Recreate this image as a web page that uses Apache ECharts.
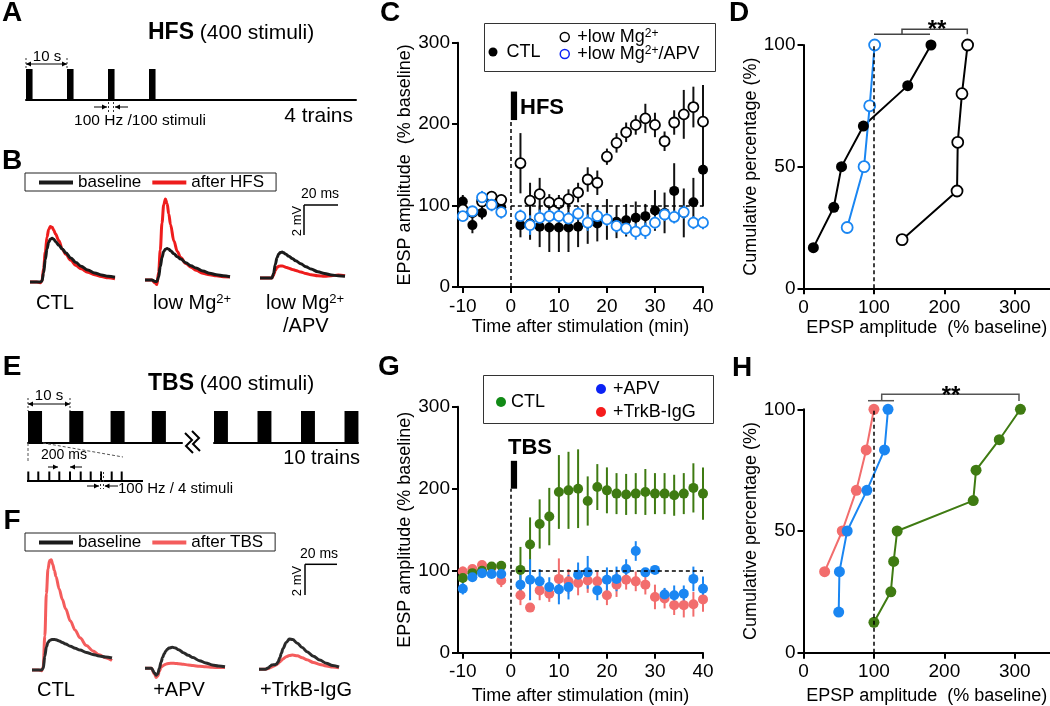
<!DOCTYPE html>
<html><head><meta charset="utf-8">
<script src="https://cdn.jsdelivr.net/npm/echarts@6/dist/echarts.min.js"></script>
<style>html,body{margin:0;padding:0;background:#fff}#c{width:1050px;height:706px}</style>
</head><body><div id="c"></div><script>
const FONT = '"Liberation Sans", Arial, Helvetica, sans-serif';

// ---------------- DATA ----------------
// Time-course panels (C, G): minutes
const timeLTP = [-10,-8,-6,-4,-2,2,4,6,8,10,12,14,16,18,20,22,24,26,28,30,32,34,36,38,40];
const xTicksTime = [-10,0,10,20,30,40];
// Panel C (HFS)
const hfsCtl      = [105,76,91,103,98,76,78,74,73,73,73,74,78,78,83,80,82,85,87,94,91,118,91,104,144];
const hfsCtlErr   = [8,10,8,5,5,15,20,25,30,30,30,25,25,22,25,20,20,20,15,25,25,34,30,30,45];
const hfsLowMg    = [95,92,105,111,107,152,106,114,104,103,108,116,132,128,160,177,190,199,207,199,179,202,212,221,203];
const hfsLowMgErr = [5,5,6,6,6,37,22,20,10,10,12,12,15,15,10,12,12,12,18,15,12,15,30,25,45];
const hfsApv      = [87,93,110,101,92,87,76,85,87,87,84,90,79,87,83,75,72,68,69,79,89,86,92,79,79];
const hfsApvErr   = [6,6,8,8,8,8,12,10,8,8,8,8,10,8,8,8,8,10,10,8,8,8,8,8,8];
// Panel G (TBS)
const tbsCtl      = [91,97,100,105,106,101,132,157,166,196,198,200,185,202,198,194,193,194,196,194,194,192,194,201,194];
const tbsCtlErr   = [6,5,5,5,5,28,33,30,35,45,47,48,30,28,28,25,25,25,28,25,25,25,25,30,32];
const tbsApv      = [78,92,97,96,96,83,89,87,80,77,80,95,98,76,89,90,102,124,98,101,71,70,72,90,78];
const tbsApvErr   = [7,5,5,5,5,12,25,15,12,18,15,15,20,12,15,15,12,12,5,5,8,12,10,15,15];
const tbsTrk      = [99,102,107,104,88,70,55,76,72,90,87,85,88,87,70,83,89,87,83,68,66,58,58,59,65];
const tbsTrkErr   = [6,5,5,5,8,12,5,12,10,25,15,15,15,12,12,15,12,12,12,15,12,12,15,15,15];
// Cumulative panels (D, H)
const xTicksCum = [0,100,200,300];
const dCtlX   = [14,43,54,85,148,181];      const dCtlY   = [16.7,33.3,50,66.7,83.3,100];
const dLowMgX = [140,218,219,225,233];       const dLowMgY = [20,40,60,80,100];
const dApvX   = [62,86,94,101];              const dApvY   = [25,50,75,100];
const hTrkX   = [30,55,75,89,100];           const hTrkY   = [33.3,50,66.7,83.3,100];
const hApvX   = [50,51,62,90,115,120];       const hApvY   = [16.7,33.3,50,66.7,83.3,100];
const hCtlX   = [100,124,128,133,241,245,278,308]; const hCtlY = [12.5,25,37.5,50,62.5,75,87.5,100];
// Stimulation protocols (seconds)
const hfsTrainStarts = [0,10,20,30];
const tbsTrainStarts = [0,10,20,30];
// EPSP traces (ms, mV)
const traceT = [0,4,6,7,8,9,10,11,12,13,14,15,17,19,21,24,27,30,34,38,42,46,50];
const bCtlBase  = [0,0,0,0.05,0.6,1.5,2.2,2.65,2.85,2.92,2.85,2.7,2.45,2.2,1.95,1.6,1.3,1.05,0.8,0.6,0.47,0.38,0.32];
const bCtlAfter = [0,0,-0.05,0.05,0.9,2.0,3.0,3.5,3.7,3.65,3.45,3.2,2.75,2.2,1.85,1.45,1.1,0.88,0.65,0.48,0.36,0.28,0.22];
const bMgBase   = [0,0,-0.1,-0.1,0.2,0.9,1.5,1.9,2.05,2.1,2.05,1.95,1.75,1.55,1.4,1.15,0.95,0.8,0.6,0.45,0.35,0.28,0.22];
const bMgAfter  = [0,0,-0.2,-0.3,0.5,2.0,3.8,5.0,5.4,5.1,4.4,3.7,2.6,1.9,1.5,1.1,0.85,0.65,0.45,0.35,0.28,0.22,0.2];
const bApvBase  = [0,0,0,0,0.3,0.9,1.35,1.6,1.7,1.73,1.68,1.6,1.45,1.3,1.15,0.95,0.75,0.6,0.42,0.3,0.2,0.15,0.12];
const bApvAfter = [0,0,0,0,0.2,0.5,0.7,0.78,0.8,0.8,0.77,0.72,0.65,0.57,0.5,0.4,0.3,0.22,0.15,0.12,0.15,0.2,0.15];
const fCtlBase  = [0,0,0,0.1,0.9,1.5,1.8,1.92,1.98,2.0,2.0,1.97,1.9,1.8,1.7,1.55,1.42,1.3,1.15,1.02,0.92,0.85,0.78];
const fCtlAfter = [0,0,-0.05,0.2,2.2,5.0,6.6,7.15,7.2,6.9,6.5,6.1,5.3,4.6,4.0,3.2,2.6,2.1,1.6,1.25,1.0,0.8,0.62];
const fApvBase  = [0,0,-0.3,-0.45,-0.35,0,0.4,0.7,0.95,1.12,1.25,1.32,1.37,1.33,1.22,1.02,0.85,0.7,0.5,0.35,0.22,0.15,0.1];
const fApvAfter = [0,0,-0.4,-0.6,-0.5,-0.2,0.05,0.15,0.22,0.27,0.3,0.32,0.33,0.32,0.3,0.26,0.22,0.18,0.13,0.1,0.07,0.05,0.05];
const fTrkBase  = [0,0,0.1,0.2,0.28,0.3,0.3,0.35,0.5,0.75,1.05,1.35,1.75,1.98,1.95,1.7,1.42,1.15,0.85,0.6,0.4,0.25,0.15];
const fTrkAfter = [0,0,0.05,0.1,0.15,0.2,0.25,0.3,0.38,0.48,0.58,0.68,0.82,0.9,0.93,0.88,0.75,0.62,0.45,0.32,0.22,0.15,0.1];

// ---------------- STYLE ----------------
const BLACK = '#000';
const BLUE = '#1a86f2';
const SALMON = '#f26d6d';
const OLIVE = '#3f7b12';
const RED_B = '#ee1c1c';
const RED_F = '#f45c5c';
const LEG_GREEN = '#118a16', LEG_BLUE = '#0b22f5', LEG_RED = '#f51c1c';

function zip(xs, ys, es){ return xs.map((x,i)=> es ? [x, ys[i], es[i]] : [x, ys[i]]); }

function mainAxis(extra){
  return Object.assign({
    type:'value', splitLine:{show:false},
    axisLine:{show:true,onZero:false,lineStyle:{color:BLACK,width:2}},
    axisTick:{show:true,length:6,lineStyle:{color:BLACK,width:2}},
    axisLabel:{color:BLACK,fontSize:19,fontFamily:FONT},
    nameTextStyle:{color:BLACK,fontSize:18,fontFamily:FONT},
    nameLocation:'middle'
  }, extra);
}
function hiddenAxis(extra){ return Object.assign({type:'value', show:false, splitLine:{show:false}}, extra); }

const grids = [
  {left:458, top:42.7, width:245, height:244.3},     //0 C
  {left:803.5, top:45, width:246.5, height:243.3},   //1 D
  {left:458, top:406.7, width:245, height:246},      //2 G
  {left:803.5, top:409.3, width:246.5, height:243.4},//3 H
  {left:26, top:69, width:330, height:31},           //4 A protocol
  {left:28, top:411, width:154, height:32},          //5 E protocol part 1
  {left:214, top:411, width:144, height:32},         //6 E protocol part 2
  {left:30, top:192, width:85, height:105},          //7 B CTL
  {left:145, top:190, width:85, height:105},         //8 B low Mg
  {left:260, top:188, width:85, height:105},         //9 B low Mg/APV
  {left:32, top:547.6, width:80, height:137.7},      //10 F CTL
  {left:145, top:545.9, width:80, height:137.7},     //11 F APV
  {left:259, top:546.9, width:80, height:137.7}      //12 F TrkB
].map(g=>Object.assign({outerBoundsMode:'none', containLabel:false}, g));

function tickX(vals){ return {show:true,length:6,lineStyle:{color:BLACK,width:2},customValues:vals}; }
function labX(vals){ return {color:BLACK,fontSize:19,fontFamily:FONT,margin:10,customValues:vals}; }
const xAxes = [
  mainAxis({gridIndex:0, min:-11, max:40, axisTick:tickX(xTicksTime), axisLabel:labX(xTicksTime), name:'Time after stimulation (min)', nameGap:31}),
  mainAxis({gridIndex:1, min:0, max:350, axisTick:tickX(xTicksCum), axisLabel:labX(xTicksCum), name:'EPSP amplitude  (% baseline)', nameGap:31}),
  mainAxis({gridIndex:2, min:-11, max:40, axisTick:tickX(xTicksTime), axisLabel:labX(xTicksTime), name:'Time after stimulation (min)', nameGap:34}),
  mainAxis({gridIndex:3, min:0, max:350, axisTick:tickX(xTicksCum), axisLabel:labX(xTicksCum), name:'EPSP amplitude  (% baseline)', nameGap:34}),
  {gridIndex:4, type:'value', min:0, max:80.5, axisLine:{show:true,onZero:false,lineStyle:{color:BLACK,width:2}}, axisTick:{show:false}, axisLabel:{show:false}, splitLine:{show:false}},
  {gridIndex:5, type:'value', min:0, max:37.3, axisLine:{show:true,onZero:false,lineStyle:{color:BLACK,width:2}}, axisTick:{show:false}, axisLabel:{show:false}, splitLine:{show:false}},
  {gridIndex:6, type:'value', min:0, max:33.1, axisLine:{show:true,onZero:false,lineStyle:{color:BLACK,width:2}}, axisTick:{show:false}, axisLabel:{show:false}, splitLine:{show:false}},
  hiddenAxis({gridIndex:7, min:0, max:50}), hiddenAxis({gridIndex:8, min:0, max:50}), hiddenAxis({gridIndex:9, min:0, max:50}),
  hiddenAxis({gridIndex:10, min:0, max:50}), hiddenAxis({gridIndex:11, min:0, max:50}), hiddenAxis({gridIndex:12, min:0, max:50})
];
const yLab = {color:BLACK,fontSize:19,fontFamily:FONT,margin:8};
const yAxes = [
  mainAxis({gridIndex:0, min:0, max:300, interval:100, axisLabel:yLab, name:'EPSP amplitude  (% baseline)', nameGap:40, nameRotate:90}),
  mainAxis({gridIndex:1, min:0, max:100, interval:50, axisLabel:yLab, name:'Cumulative percentage (%)', nameGap:30, nameRotate:90}),
  mainAxis({gridIndex:2, min:0, max:300, interval:100, axisLabel:yLab, name:'EPSP amplitude (% baseline)', nameGap:40, nameRotate:90}),
  mainAxis({gridIndex:3, min:0, max:100, interval:50, axisLabel:yLab, name:'Cumulative percentage (%)', nameGap:30, nameRotate:90}),
  hiddenAxis({gridIndex:4, min:0, max:1}), hiddenAxis({gridIndex:5, min:0, max:1}), hiddenAxis({gridIndex:6, min:0, max:1}),
  hiddenAxis({gridIndex:7, min:-1, max:6}), hiddenAxis({gridIndex:8, min:-1, max:6}), hiddenAxis({gridIndex:9, min:-1, max:6}),
  hiddenAxis({gridIndex:10, min:-1, max:8}), hiddenAxis({gridIndex:11, min:-1, max:8}), hiddenAxis({gridIndex:12, min:-1, max:8})
];

function errSeries(ai, data, color, w){
  return {type:'custom', xAxisIndex:ai, yAxisIndex:ai, data, silent:true, encode:{x:0,y:1}, clip:false,
    renderItem:(p,api)=>{ const x=api.value(0), y=api.value(1), e=api.value(2);
      const a=api.coord([x,y-e]), b=api.coord([x,y+e]);
      return {type:'line', shape:{x1:a[0],y1:a[1],x2:b[0],y2:b[1]}, style:{stroke:color,lineWidth:w}}; }};
}
function dots(ai, name, data, fill, border, bw, size){
  return {type:'scatter', name, xAxisIndex:ai, yAxisIndex:ai, data, symbol:'circle', symbolSize:size||10, silent:true,
    itemStyle:{color:fill, borderColor:border, borderWidth:bw, opacity:1}, clip:false};
}
function cumLine(ai, name, data, lineColor, fill, border, bw){
  return {type:'line', name, xAxisIndex:ai, yAxisIndex:ai, data, symbol:'circle', symbolSize:11, showSymbol:true, silent:true,
    lineStyle:{color:lineColor,width:2}, itemStyle:{color:fill,borderColor:border,borderWidth:bw}, clip:false};
}
function trace(ai, name, ys, color){
  return {type:'line', name, xAxisIndex:ai, yAxisIndex:ai, data:zip(traceT, ys), showSymbol:false, symbol:'none', smooth:0.35, smoothMonotone:'x',
    silent:true, clip:false, lineStyle:{color,width:3}, itemStyle:{color}};
}
function blocks(ai, starts, dur){
  return {type:'custom', xAxisIndex:ai, yAxisIndex:ai, data:starts.map(t=>[t,1]), encode:{x:0,y:1}, silent:true, clip:false,
    renderItem:(p,api)=>{ const t=api.value(0); const a=api.coord([t,1]); const b=api.coord([t+dur,0]);
      return {type:'rect', shape:{x:a[0],y:a[1],width:b[0]-a[0],height:b[1]-a[1]}, style:{fill:BLACK}}; }};
}
const dashStyle = {color:BLACK, width:1.5, type:[4,3]};
function refLines(lines){
  return {silent:true, symbol:'none', label:{show:false}, lineStyle:dashStyle, emphasis:{disabled:true},
    data: lines.map(l=>[{coord:l[0]},{coord:l[1]}])};
}

const series = [
  // C
  Object.assign(errSeries(0, zip(timeLTP,hfsCtl,hfsCtlErr), '#111', 2), {
    markLine: refLines([[[0,0],[0,205]], [[0,100],[40,100]]]),
    markArea: {silent:true, itemStyle:{color:BLACK, opacity:1}, label:{show:false}, data:[[{coord:[0,205]},{coord:[1.3,240]}]]}
  }),
  dots(0, 'CTL', zip(timeLTP,hfsCtl,hfsCtlErr), BLACK, BLACK, 0, 10),
  errSeries(0, zip(timeLTP,hfsLowMg,hfsLowMgErr), '#111', 2),
  dots(0, '+low Mg2+', zip(timeLTP,hfsLowMg,hfsLowMgErr), '#fff', BLACK, 1.8, 10),
  errSeries(0, zip(timeLTP,hfsApv,hfsApvErr), BLUE, 2),
  dots(0, '+low Mg2+/APV', zip(timeLTP,hfsApv,hfsApvErr), '#fff', BLUE, 1.8, 10),
  // D
  Object.assign(cumLine(1, 'CTL', zip(dCtlX,dCtlY), BLACK, BLACK, BLACK, 0), {markLine: refLines([[[100,0],[100,100]]])}),
  cumLine(1, '+low Mg2+', zip(dLowMgX,dLowMgY), BLACK, '#fff', BLACK, 1.8),
  cumLine(1, '+low Mg2+/APV', zip(dApvX,dApvY), BLUE, '#fff', BLUE, 1.8),
  // G
  Object.assign(errSeries(2, zip(timeLTP,tbsTrk,tbsTrkErr), SALMON, 2), {
    markLine: refLines([[[0,0],[0,200]], [[0,100],[40,100]]]),
    markArea: {silent:true, itemStyle:{color:BLACK, opacity:1}, label:{show:false}, data:[[{coord:[0,200]},{coord:[1.3,234]}]]}
  }),
  dots(2, '+TrkB-IgG', zip(timeLTP,tbsTrk,tbsTrkErr), SALMON, SALMON, 0, 10),
  errSeries(2, zip(timeLTP,tbsCtl,tbsCtlErr), OLIVE, 2),
  dots(2, 'CTL (TBS)', zip(timeLTP,tbsCtl,tbsCtlErr), OLIVE, OLIVE, 0, 10),
  errSeries(2, zip(timeLTP,tbsApv,tbsApvErr), BLUE, 2),
  dots(2, '+APV', zip(timeLTP,tbsApv,tbsApvErr), BLUE, BLUE, 0, 10),
  // H
  Object.assign(cumLine(3, '+TrkB-IgG', zip(hTrkX,hTrkY), SALMON, SALMON, SALMON, 0), {markLine: refLines([[[100,0],[100,100]]])}),
  cumLine(3, '+APV', zip(hApvX,hApvY), BLUE, BLUE, BLUE, 0),
  cumLine(3, 'CTL (TBS)', zip(hCtlX,hCtlY), OLIVE, OLIVE, OLIVE, 0),
  // protocols
  blocks(4, hfsTrainStarts, 1.6),
  blocks(5, tbsTrainStarts, 3.4),
  blocks(6, tbsTrainStarts, 3.2),
  // traces B
  trace(7, 'after HFS', bCtlAfter, RED_B), trace(7, 'baseline', bCtlBase, '#1a1a1a'),
  trace(8, 'after HFS', bMgAfter, RED_B),  trace(8, 'baseline', bMgBase, '#1a1a1a'),
  trace(9, 'after HFS', bApvAfter, RED_B), trace(9, 'baseline', bApvBase, '#1a1a1a'),
  // traces F
  trace(10, 'after TBS', fCtlAfter, RED_F), trace(10, 'baseline', fCtlBase, '#2a2a2a'),
  trace(11, 'after TBS', fApvAfter, RED_F), trace(11, 'baseline', fApvBase, '#2a2a2a'),
  trace(12, 'after TBS', fTrkAfter, RED_F), trace(12, 'baseline', fTrkBase, '#2a2a2a')
];

const supRich = {sup:{fontSize:12, fontFamily:FONT, color:BLACK, verticalAlign:'top', lineHeight:11}};
function legendFmt(n){ return n === 'CTL (TBS)' ? 'CTL' : n.replace('2+','{sup|2+}'); }
function oneLegend(name, left, top, icon, iStyle, size, padLeft){
  return {data:[{name, icon, itemStyle:iStyle}], left, top, orient:'horizontal', selectedMode:false, padding:0,
    itemWidth:size, itemHeight:size, formatter:legendFmt,
    textStyle:{fontSize:18, fontFamily:FONT, color:BLACK, padding:[0,0,0,padLeft], rich:supRich}};
}
const legends = [
  oneLegend('CTL', 488.5, 43, 'circle', {color:BLACK, borderWidth:0}, 9, 4),
  oneLegend('+low Mg2+', 559.5, 28, 'circle', {color:'#fff', borderColor:BLACK, borderWidth:1.5}, 9, 3),
  oneLegend('+low Mg2+/APV', 559.5, 45, 'circle', {color:'#fff', borderColor:LEG_BLUE, borderWidth:1.5}, 9, 3),
  oneLegend('CTL (TBS)', 496, 393, 'circle', {color:LEG_GREEN, borderWidth:0}, 10, 0),
  oneLegend('+APV', 596, 380, 'circle', {color:LEG_BLUE, borderWidth:0}, 10, 2),
  oneLegend('+TrkB-IgG', 596, 403, 'circle', {color:LEG_RED, borderWidth:0}, 10, 2),
  {data:['baseline','after HFS'], left:25, top:173, orient:'horizontal', selectedMode:false, icon:'rect', itemWidth:34, itemHeight:4, itemGap:11,
   padding:[1,12,0,14], borderColor:'#222', borderWidth:1, textStyle:{fontSize:17, fontFamily:FONT, color:BLACK}},
  {data:['baseline','after TBS'], left:25, top:533, orient:'horizontal', selectedMode:false, icon:'rect', itemWidth:34, itemHeight:4, itemGap:11,
   padding:[1,12,0,14], borderColor:'#222', borderWidth:1, textStyle:{fontSize:17, fontFamily:FONT, color:BLACK}}
];

// ---------------- annotations ----------------
const G = [];
function txt(text, x, y, size, opts){
  G.push({type:'text', z:50, style:Object.assign({text, x, y, fontSize:size, fontFamily:FONT, fill:BLACK, align:'center', verticalAlign:'middle'}, opts||{})});
}
function rtxt(text, x, y, size){
  G.push({type:'text', z:50, x, y, rotation:Math.PI/2, style:{text, x:0, y:0, fontSize:size, fontFamily:FONT, fill:BLACK, align:'center', verticalAlign:'middle'}});
}
function ln(x1,y1,x2,y2,w,color,dash){
  G.push({type:'line', z:50, shape:{x1,y1,x2,y2}, style:{stroke:color||BLACK, lineWidth:w||1, lineDash:dash||null}});
}
function pl(points,w,color){
  G.push({type:'polyline', z:50, shape:{points}, style:{stroke:color||BLACK, lineWidth:w||1.5, fill:null}});
}
function head(x,y,dir){
  const d = dir==='r' ? -1 : 1;
  G.push({type:'polygon', z:50, shape:{points:[[x,y],[x+5*d,y-2.5],[x+5*d,y+2.5]]}, style:{fill:BLACK}});
}
// panel letters
[['A',12,13],['B',12,161],['C',390,13],['D',739,13],['E',12,367],['F',12,521],['G',389,367],['H',742,368]]
  .forEach(l=>txt(l[0], l[1], l[2], 28, {fontWeight:'bold'}));

// A
txt('{b|HFS} (400 stimuli)', 148, 33, 21, {align:'left', rich:{b:{fontSize:23, fontWeight:'bold', fontFamily:FONT, fill:BLACK}}});
txt('10 s', 47, 57, 15);
ln(26,64,67,64,1); head(26,64,'l'); head(67,64,'r');
ln(26,58,26,69,1,'#333',[2,2]); ln(67,58,67,69,1,'#333',[2,2]);
ln(94,107,107,107,1); head(107,107,'r');
ln(108.5,102,108.5,112,1,'#333',[2,2]); ln(113.5,102,113.5,112,1,'#333',[2,2]);
ln(128,107,115,107,1); head(115,107,'l');
txt('100 Hz /100 stimuli', 140, 121, 15.5);
txt('4 trains', 353, 116, 21, {align:'right'});

// B
ln(304,205,338,205,1.5); ln(304,205,304,235,1.5);
txt('20 ms', 320, 194, 14);
rtxt('2 mV', 297, 221, 13);
const supR20 = {sup:{fontSize:13, fontFamily:FONT, fill:BLACK, verticalAlign:'top', lineHeight:12}};
txt('CTL', 55, 303, 20);
txt('low Mg{sup|2+}', 153, 303, 20, {align:'left', rich:supR20});
txt('low Mg{sup|2+}', 266, 303, 20, {align:'left', rich:supR20});
txt('/APV', 283, 326, 20, {align:'left'});

// C
G.push({type:'rect', z:1, shape:{x:484.5,y:23.5,width:231,height:48}, style:{fill:'none', stroke:'#333', lineWidth:1}});
txt('HFS', 520, 108, 22, {align:'left', fontWeight:'bold'});

// D bracket
pl([[874,34.3],[930,34.3]],1.5,'#444'); pl([[902,34.3],[902,29.3],[967.3,29.3],[967.3,34.3]],1.5,'#444');
txt('**', 937, 30, 24, {fontWeight:'bold'});

// E
txt('{b|TBS} (400 stimuli)', 148, 384, 21, {align:'left', rich:{b:{fontSize:23, fontWeight:'bold', fontFamily:FONT, fill:BLACK}}});
txt('10 s', 49, 396, 15);
ln(28,404,70,404,1); head(28,404,'l'); head(70,404,'r');
ln(28,398,28,411,1,'#333',[2,2]); ln(70,398,70,411,1,'#333',[2,2]);
ln(28,443,28,462,1,'#555',[3,2]); ln(43,443,123,457,1,'#555',[3,2]);
txt('200 ms', 64, 455, 14);
ln(48,467,58,467,1); head(58,467,'r'); ln(82,467,70,467,1); head(70,467,'l');
ln(27,481,143,481,2);
[28.3,38.3,49.3,59.3,70,80.7,90.7,101,111.7,121.7].forEach(x=>ln(x,481,x,471.5,2));
ln(87,486,99,486,1); head(99,486,'r');
ln(100.5,472,100.5,489,1,'#333',[2,2]); ln(103.5,472,103.5,489,1,'#333',[2,2]);
ln(118,486,105,486,1); head(104.5,486,'l');
txt('100 Hz / 4 stimuli', 118, 489, 15, {align:'left'});
txt('10 trains', 360, 458, 20, {align:'right'});
pl([[185,433],[192,440],[186,446],[193,453]],2); pl([[192,431],[199,438],[193,444],[200,451]],2);

// F
ln(305,564.3,337,564.3,1.5); ln(305,564.3,305,595,1.5);
txt('20 ms', 319, 554, 14);
rtxt('2 mV', 297, 581, 13);
txt('CTL', 56, 690, 20); txt('+APV', 179, 690, 20); txt('+TrkB-IgG', 306, 690, 20);

// G
G.push({type:'rect', z:1, shape:{x:483.5,y:375.5,width:230,height:48}, style:{fill:'none', stroke:'#333', lineWidth:1}});
txt('TBS', 530, 448, 22, {fontWeight:'bold'});

// H bracket
pl([[868,400.7],[894,400.7]],1.5,'#555'); pl([[881.7,400.7],[881.7,394.3],[1019,394.3],[1019,401]],1.5,'#555');
txt('**', 951, 396, 24, {fontWeight:'bold'});

const chart = echarts.init(document.getElementById('c'), null, {renderer:'canvas'});
chart.setOption({
  animation:false,
  backgroundColor:'#fff',
  textStyle:{fontFamily:FONT},
  grid:grids, xAxis:xAxes, yAxis:yAxes, legend:legends, series, graphic:G
});
</script></body></html>
